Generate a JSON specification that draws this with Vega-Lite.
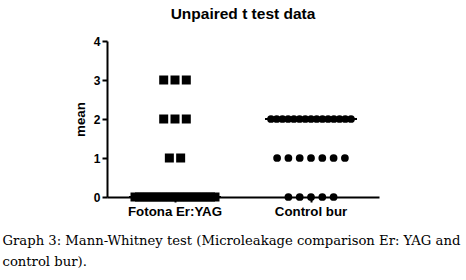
{
  "$schema": "https://vega.github.io/schema/vega-lite/v6.json",
  "width": 272,
  "height": 156,
  "autosize": {"type": "none"},
  "padding": {"left": 107, "top": 41, "right": 87, "bottom": 83},
  "background": "white",
  "config": {"view": {"stroke": null}},
  "title": {"text": "Unpaired t test data", "font": "Liberation Sans", "fontSize": 15.5, "fontWeight": "bold", "color": "black", "anchor": "middle", "offset": 13},
  "data": {"values": [
    {"group": "Fotona Er:YAG", "value": 3}, {"group": "Fotona Er:YAG", "value": 3}, {"group": "Fotona Er:YAG", "value": 3},
    {"group": "Fotona Er:YAG", "value": 2}, {"group": "Fotona Er:YAG", "value": 2}, {"group": "Fotona Er:YAG", "value": 2},
    {"group": "Fotona Er:YAG", "value": 1}, {"group": "Fotona Er:YAG", "value": 1},
    {"group": "Fotona Er:YAG", "value": 0}, {"group": "Fotona Er:YAG", "value": 0}, {"group": "Fotona Er:YAG", "value": 0},
    {"group": "Fotona Er:YAG", "value": 0}, {"group": "Fotona Er:YAG", "value": 0}, {"group": "Fotona Er:YAG", "value": 0},
    {"group": "Fotona Er:YAG", "value": 0}, {"group": "Fotona Er:YAG", "value": 0}, {"group": "Fotona Er:YAG", "value": 0},
    {"group": "Fotona Er:YAG", "value": 0}, {"group": "Fotona Er:YAG", "value": 0}, {"group": "Fotona Er:YAG", "value": 0},
    {"group": "Fotona Er:YAG", "value": 0}, {"group": "Fotona Er:YAG", "value": 0}, {"group": "Fotona Er:YAG", "value": 0},
    {"group": "Fotona Er:YAG", "value": 0}, {"group": "Fotona Er:YAG", "value": 0}, {"group": "Fotona Er:YAG", "value": 0},
    {"group": "Fotona Er:YAG", "value": 0},
    {"group": "Control bur", "value": 2}, {"group": "Control bur", "value": 2}, {"group": "Control bur", "value": 2},
    {"group": "Control bur", "value": 2}, {"group": "Control bur", "value": 2}, {"group": "Control bur", "value": 2},
    {"group": "Control bur", "value": 2}, {"group": "Control bur", "value": 2}, {"group": "Control bur", "value": 2},
    {"group": "Control bur", "value": 2}, {"group": "Control bur", "value": 2}, {"group": "Control bur", "value": 2},
    {"group": "Control bur", "value": 2}, {"group": "Control bur", "value": 2}, {"group": "Control bur", "value": 2},
    {"group": "Control bur", "value": 1}, {"group": "Control bur", "value": 1}, {"group": "Control bur", "value": 1},
    {"group": "Control bur", "value": 1}, {"group": "Control bur", "value": 1}, {"group": "Control bur", "value": 1},
    {"group": "Control bur", "value": 1},
    {"group": "Control bur", "value": 0}, {"group": "Control bur", "value": 0}, {"group": "Control bur", "value": 0},
    {"group": "Control bur", "value": 0}, {"group": "Control bur", "value": 0}
  ]},
  "encoding": {
    "x": {
      "field": "group", "type": "nominal", "sort": ["Fotona Er:YAG", "Control bur"],
      "scale": {"paddingInner": 0, "paddingOuter": 0},
      "axis": {
        "labelAngle": 0, "labelFont": "Liberation Sans", "labelFontSize": 13.3, "labelFontWeight": "bold", "labelColor": "black", "labelPadding": 2,
        "domainColor": "black", "domainWidth": 2, "tickColor": "black", "tickWidth": 2, "tickSize": 5,
        "title": ["Graph 3: Mann-Whitney test (Microleakage comparison Er: YAG and", "control bur)."],
        "titleFont": "DejaVu Serif", "titleFontSize": 13.2, "titleFontWeight": "normal", "titleColor": "black",
        "titleAnchor": "start", "titleAlign": "left", "titleX": -105, "titleY": 47, "titleBaseline": "alphabetic", "titleLineHeight": 21
      }
    },
    "y": {
      "type": "quantitative",
      "scale": {"domain": [0, 4], "nice": false, "zero": true},
      "axis": {
        "values": [0, 1, 2, 3, 4], "grid": false, "title": "mean",
        "labelFont": "Liberation Sans", "labelFontSize": 12, "labelFontWeight": "bold", "labelColor": "black", "labelPadding": 2,
        "domainColor": "black", "domainWidth": 2, "tickColor": "black", "tickWidth": 2, "tickSize": 5,
        "titleFont": "Liberation Sans", "titleFontSize": 13.3, "titleFontWeight": "bold", "titleColor": "black", "titlePadding": 6
      }
    }
  },
  "layer": [
    {
      "transform": [
        {"window": [{"op": "row_number", "as": "k"}], "groupby": ["group", "value"]},
        {"joinaggregate": [{"op": "count", "as": "n"}], "groupby": ["group", "value"]},
        {"calculate": "datum.n > 1 ? (datum.k - (datum.n + 1) / 2) * min(11.3, 80 / (datum.n - 1)) : 0", "as": "off"}
      ],
      "mark": {"type": "point", "filled": true, "opacity": 1, "color": "black", "strokeWidth": 0},
      "encoding": {
        "y": {"field": "value"},
        "xOffset": {"field": "off", "type": "quantitative", "scale": {"domain": [-68, 68]}},
        "shape": {"field": "group", "type": "nominal", "scale": {"domain": ["Fotona Er:YAG", "Control bur"], "range": ["square", "circle"]}, "legend": null},
        "size": {"field": "group", "type": "nominal", "scale": {"domain": ["Fotona Er:YAG", "Control bur"], "range": [81, 60]}, "legend": null}
      }
    },
    {
      "mark": {"type": "tick", "color": "black", "size": 92, "thickness": 2, "opacity": 1},
      "encoding": {
        "y": {"field": "value", "aggregate": "median"}
      }
    }
  ]
}
